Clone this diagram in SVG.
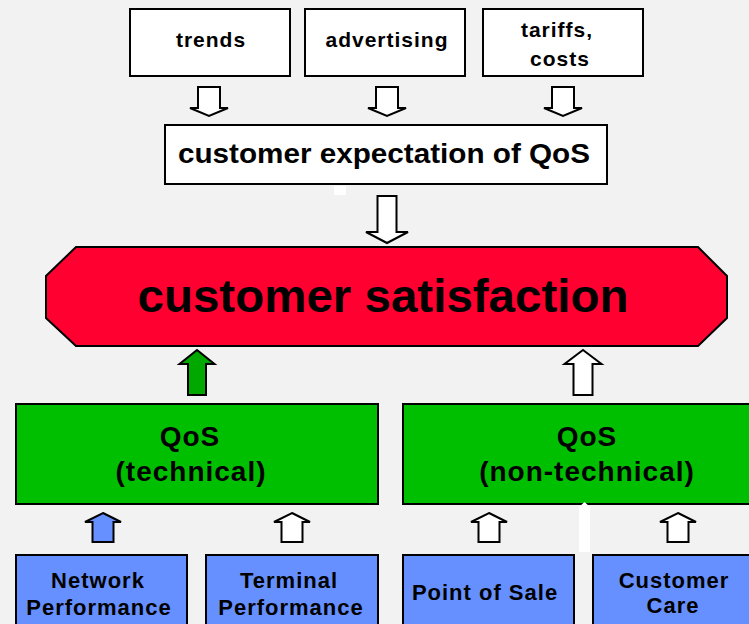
<svg xmlns="http://www.w3.org/2000/svg" width="749" height="624" viewBox="0 0 749 624">
  <defs>
    <style>
      .box { stroke: #000; stroke-width: 2; }
      .white { fill: #fff; }
      .green { fill: #00bf00; }
      .blue { fill: #6690ff; }
      .red { fill: #ff0030; }
      .arrow { stroke: #000; stroke-width: 2; stroke-linejoin: miter; }
      text { font-family: "Liberation Sans", Arial, sans-serif; font-weight: bold; fill: #000; text-anchor: middle; }
      .t21 { font-size: 21px; letter-spacing: 1px; }
      .t28 { font-size: 28px; letter-spacing: 1px; }
      .t22 { font-size: 22px; letter-spacing: 1px; }
    </style>
  </defs>

  <rect x="0" y="0" width="749" height="624" fill="#f2f2f2"/>

  <!-- influencing factors -->
  <g id="trends">
    <rect class="box white" x="130" y="9" width="160" height="67"/>
    <text class="t21" x="211" y="47">trends</text>
  </g>
  <g id="advertising">
    <rect class="box white" x="305" y="9" width="160" height="67"/>
    <text class="t21" x="387" y="47">advertising</text>
  </g>
  <g id="tariffs">
    <rect class="box white" x="483" y="9" width="160" height="67"/>
    <text class="t21" x="557" y="37">tariffs,</text>
    <text class="t21" x="560" y="66">costs</text>
  </g>

  <g id="expectation">
    <rect class="box white" x="165" y="125" width="442" height="59"/>
    <text class="t28" x="384" y="163" textLength="412" lengthAdjust="spacingAndGlyphs" style="letter-spacing:0">customer expectation of QoS</text>
  </g>

  <g id="satisfaction">
    <polygon class="box red" points="76,247 698,247 727,276 727,318 698,346 76,346 46,318 46,276"/>
    <text x="383" y="312" font-size="47" textLength="491" lengthAdjust="spacingAndGlyphs">customer satisfaction</text>
  </g>

  <g id="qos-technical">
    <rect class="box green" x="16" y="404" width="362" height="100"/>
    <text class="t28" x="190" y="446">QoS</text>
    <text class="t28" x="191" y="481">(technical)</text>
  </g>
  <g id="qos-non-technical">
    <rect class="box green" x="403" y="404" width="380" height="100"/>
    <text class="t28" x="587" y="446">QoS</text>
    <text class="t28" x="587" y="481">(non-technical)</text>
  </g>

  <g id="network-performance">
    <rect class="box blue" x="16" y="555" width="171" height="90"/>
    <text class="t22" x="98" y="588">Network</text>
    <text class="t22" x="99" y="615">Performance</text>
  </g>
  <g id="terminal-performance">
    <rect class="box blue" x="206" y="555" width="172" height="90"/>
    <text class="t22" x="289" y="588">Terminal</text>
    <text class="t22" x="291" y="615">Performance</text>
  </g>
  <g id="point-of-sale">
    <rect class="box blue" x="403" y="555" width="171" height="90"/>
    <text class="t22" x="485" y="600">Point of Sale</text>
  </g>
  <g id="customer-care">
    <rect class="box blue" x="593" y="555" width="190" height="90"/>
    <text class="t22" x="674" y="588">Customer</text>
    <text class="t22" x="673" y="613">Care</text>
  </g>

  <!-- block arrows -->
  <g id="connectors">
    <!-- factors into expectation -->
    <polygon class="arrow white" points="198,87 220,87 220,108 228,108 209,116 190,108 198,108"/>
    <polygon class="arrow white" points="376,87 398,87 398,108 406,108 387,116 368,108 376,108"/>
    <polygon class="arrow white" points="552,87 574,87 574,108 582,108 563,116 544,108 552,108"/>
    <!-- expectation into satisfaction -->
    <polygon class="arrow white" points="377.5,196 396.5,196 396.5,232 408,232 387,243 366,232 377.5,232"/>
    <!-- QoS into satisfaction -->
    <polygon class="arrow" fill="#00a800" points="197,350 214.5,364 206,364 206,395 188,395 188,364 179.5,364"/>
    <polygon class="arrow white" points="583,350 601.5,364 592.5,364 592.5,395 573.5,395 573.5,364 564.5,364"/>
    <!-- components into QoS -->
    <polygon class="arrow blue" points="103,513 121,522 113.5,522 113.5,542 92.5,542 92.5,522 85,522"/>
    <polygon class="arrow white" points="292,513 310,522 302.5,522 302.5,542 281.5,542 281.5,522 274,522"/>
    <polygon class="arrow white" points="489,513 507,522 499.5,522 499.5,542 478.5,542 478.5,522 471,522"/>
    <polygon class="arrow white" points="678,513 696,522 688.5,522 688.5,542 667.5,542 667.5,522 660,522"/>
  </g>

  <!-- small white marks -->
  <rect x="334" y="186" width="12" height="9" fill="#fff"/>
  <polygon points="579,507 584.5,502 590,507 590,552 579,552" fill="#fff"/>
</svg>
